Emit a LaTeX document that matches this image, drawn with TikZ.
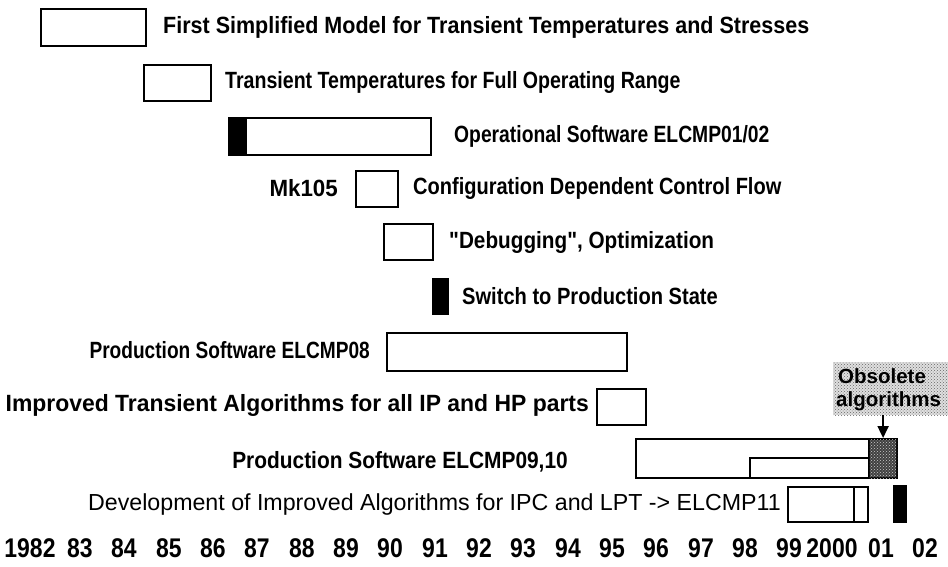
\documentclass[tikz,border=0pt]{standalone}
\usepackage{fontspec}
\setmainfont{Liberation Sans}[Ligatures=TeXOff]
\newfontfamily\yearfont[FakeStretch=0.85]{Liberation Sans}
\usetikzlibrary{patterns,arrows.meta}
\newcommand{\hsc}[2]{\scalebox{#1}[1]{#2}}
\begin{document}
\begin{tikzpicture}[x=1pt,y=-1pt,
  bx/.style={draw, line width=2.2pt, fill=white, anchor=north west, inner sep=0pt},
  blk/.style={fill=black, draw=black, line width=1pt, anchor=north west, inner sep=0pt},
  lbl/.style={font=\fontsize{23.5}{26}\selectfont\bfseries, inner sep=0pt},
  obl/.style={font=\fontsize{20.5}{24}\selectfont\bfseries, inner sep=0pt},
  reg/.style={font=\fontsize{23.2}{26}\selectfont, inner sep=0pt},
  yr/.style={font=\yearfont\fontsize{27}{30}\selectfont\bfseries, inner sep=0pt},
  stip/.style={fill=gray!25, postaction={pattern=crosshatch dots, pattern color=gray!80!black}, anchor=north west, inner sep=0pt},
  dark/.style={draw, line width=2.2pt, fill=black!75, postaction={pattern=crosshatch dots, pattern color=gray!40}, anchor=north west, inner sep=0pt},
  arr/.style={line width=2.2pt, -{Triangle[length=12pt,width=11pt]}}]
\useasboundingbox[fill=white] (0,0) rectangle (948,567);
% row 1
\node[bx, minimum width=105pt, minimum height=37pt] (b1) at (40,8) {};
\node[lbl, anchor=west] (t1) at (163,27) {\hsc{0.915}{First Simplified Model for Transient Temperatures and Stresses}};
% row 2
\node[bx, minimum width=67pt, minimum height=36pt] (b2) at (143,64) {};
\node[lbl, anchor=west] (t2) at (225,82) {\hsc{0.833}{Transient Temperatures for Full Operating Range}};
% row 3
\node[bx, minimum width=202pt, minimum height=37pt] (b3) at (228,117) {};
\node[blk, minimum width=18pt, minimum height=37pt] (b3k) at (228,117) {};
\node[lbl, anchor=west] (t3) at (454,136) {\hsc{0.821}{Operational Software ELCMP01/02}};
% row 4
\node[lbl, anchor=east] (mk) at (338,188) {\hsc{0.95}{Mk105}};
\node[bx, minimum width=42pt, minimum height=36pt] (b4) at (355,170) {};
\node[lbl, anchor=west] (t4) at (413,188) {\hsc{0.852}{Configuration Dependent Control Flow}};
% row 5
\node[bx, minimum width=49pt, minimum height=36pt] (b5) at (383,223) {};
\node[lbl, anchor=west] (t5) at (449,242) {\hsc{0.882}{"Debugging", Optimization}};
% row 6
\node[blk, minimum width=16pt, minimum height=36pt] (b6) at (432,278) {};
\node[lbl, anchor=west] (t6) at (462,296) {\hsc{0.855}{Switch to Production State}};
% row 7
\node[lbl, anchor=east] (t7) at (370,350) {\hsc{0.813}{Production Software ELCMP08}};
\node[bx, minimum width=240pt, minimum height=38pt] (b7) at (386,332) {};
% row 8
\node[lbl, anchor=east] (t8) at (589,405) {\hsc{0.975}{Improved Transient Algorithms for all IP and HP parts}};
\node[bx, minimum width=49pt, minimum height=36pt] (b8) at (596,388) {};
% obsolete
\node[stip, minimum width=115pt, minimum height=53pt] (obs) at (833,362) {};
\node[obl, anchor=west] (ot1) at (838,376) {Obsolete};
\node[obl, anchor=west] (ot2) at (836,401) {algorithms};
% row 9
\node[lbl, anchor=east] (t9) at (568,462) {\hsc{0.889}{Production Software ELCMP09,10}};
\node[bx, minimum width=261pt, minimum height=39pt] (b9) at (635,438) {};
\node[bx, minimum width=119pt, minimum height=20pt] (b9i) at (749,457) {};
\node[dark, minimum width=28pt, minimum height=39pt] (b9d) at (868,438) {};
\draw[arr] (obs.south -| b9d.north) -- (b9d.north);
% row 10
\node[reg, anchor=east] (t10) at (781,504) {Development of Improved Algorithms for IPC and LPT -> ELCMP11};
\node[bx, minimum width=80pt, minimum height=35pt] (b10) at (787,486) {};
\node[bx, minimum width=14pt, minimum height=35pt] (b10r) at (853,486) {};
\node[blk, minimum width=13pt, minimum height=37pt] (b10k) at (893,485) {};
% years
\foreach \yx/\yl [count=\i] in {30/1982, 80/83, 124/84, 169/85, 213/86, 257/87, 302/88, 346/89, 390/90, 435/91, 479/92, 523/93, 568/94, 612/95, 656/96, 701/97, 745/98, 789/99, 832/2000, 881/01, 925/02}
  \node[yr] (y\i) at (\yx,548) {\yl};
\end{tikzpicture}
\end{document}
